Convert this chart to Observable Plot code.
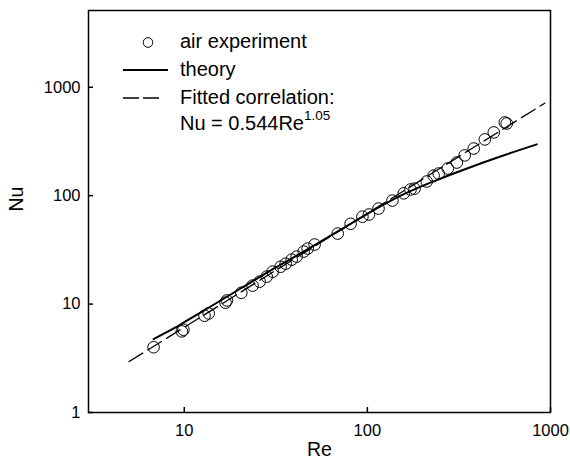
<!DOCTYPE html>
<html><head><meta charset="utf-8">
<script src="https://cdn.jsdelivr.net/npm/d3@7"></script>
<script src="https://cdn.jsdelivr.net/npm/@observablehq/plot@0.6"></script>
<style>
body{margin:0;background:#fff;}
#wrap{position:relative;width:570px;height:466px;font-family:"Liberation Sans",Arial,Helvetica,sans-serif;}
#wrap svg.leg{position:absolute;left:0;top:0;pointer-events:none;}
</style></head><body><div id="wrap"></div>
<script>
// air experiment
const reExp = [6.8, 9.7, 9.9, 12.9, 13.6, 16.8, 17.1, 20.5, 23.6, 25.8, 28.2, 30.4, 33.6, 35.8, 38.6, 41.1, 44.9, 47.2, 51.5, 68.9, 81, 94, 102, 115, 137, 158, 172, 181, 211, 230, 245, 275, 308, 340, 381, 438, 490, 563, 577];
const nuExp = [4.0, 5.6, 5.8, 7.8, 8.2, 10.3, 10.8, 12.7, 14.8, 16.1, 17.9, 19.9, 22.1, 23.6, 25.7, 27.4, 30.5, 32.5, 35.4, 44.7, 55, 64, 67, 76, 90, 105, 114, 116, 135, 153, 160, 178, 202, 235, 272, 330, 383, 473, 463];
// theory
const reTheory = [6.8, 8.9, 10, 13.5, 20, 30, 40, 70, 100, 154, 234, 356, 542, 842];
const nuTheory = [4.75, 6.05, 6.8, 9.2, 13.7, 20.7, 27.3, 47.5, 68, 101, 137, 180, 232, 297];
// fitted correlation Nu = 0.544 Re^1.05 (end points)
const reFit = [5, 930];
const nuFit = [2.95, 712];
// axes
const xTicks = [10, 100, 1000];
const yTicks = [1, 10, 100, 1000];
const xLabel = "Re";
const yLabel = "Nu";
const legendLabels = ["air experiment", "theory", "Fitted correlation:", "Nu = 0.544Re", "1.05"];

const exp = reExp.map((r, i) => ({re: r, nu: nuExp[i]}));
const theory = reTheory.map((r, i) => ({re: r, nu: nuTheory[i]}));
const fit = reFit.map((r, i) => ({re: r, nu: nuFit[i]}));

const font = '"Liberation Sans", Arial, Helvetica, sans-serif';

const chart = Plot.plot({
  width: 570,
  height: 466,
  marginLeft: 88,
  marginRight: 20,
  marginTop: 10,
  marginBottom: 54,
  style: {fontFamily: font, background: "#fff", color: "#000"},
  x: {type: "log", domain: [3, 1000]},
  y: {type: "log", domain: [1, 5100]},
  marks: [
    Plot.line(fit, {x: "re", y: "nu", stroke: "#000", strokeWidth: 1.3, strokeDasharray: "16,6"}),
    Plot.line(theory, {x: "re", y: "nu", stroke: "#000", strokeWidth: 2, curve: "catmull-rom"}),
    Plot.dot(exp, {x: "re", y: "nu", r: 5.8, stroke: "#000", strokeWidth: 1, fill: "none"}),
    Plot.frame({stroke: "#000", strokeWidth: 1.5}),
    Plot.tickX(xTicks, {x: d => d, insetTop: 397, stroke: "#000", strokeWidth: 1.5}),
    Plot.tickY(yTicks, {y: d => d, insetRight: 457, stroke: "#000", strokeWidth: 1.5}),
    Plot.axisX({ticks: xTicks, tickFormat: d => String(d), tickSize: 0, tickPadding: 12, fontSize: 16.5, label: null}),
    Plot.axisY({ticks: yTicks, tickFormat: d => String(d), tickSize: 0, tickPadding: 8, fontSize: 16.5, label: null}),
    Plot.text([xLabel], {text: d => d, frameAnchor: "bottom", dy: 37, fontSize: 19.5, lineAnchor: "middle"}),
    Plot.text([yLabel], {text: d => d, frameAnchor: "left", dx: -72, rotate: -90, fontSize: 19.5, lineAnchor: "middle"})
  ]
});

const wrap = document.getElementById("wrap");
wrap.appendChild(chart);

// legend overlay
const leg = d3.create("svg").attr("class", "leg").attr("width", 570).attr("height", 466)
  .style("font-family", font);
leg.append("circle").attr("cx", 148).attr("cy", 42.5).attr("r", 4.8)
  .attr("fill", "none").attr("stroke", "#000").attr("stroke-width", 1);
leg.append("text").attr("x", 180).attr("y", 48).attr("font-size", 20).text(legendLabels[0]);
leg.append("line").attr("x1", 123).attr("x2", 168).attr("y1", 70).attr("y2", 70)
  .attr("stroke", "#000").attr("stroke-width", 2);
leg.append("text").attr("x", 180).attr("y", 76).attr("font-size", 20).text(legendLabels[1]);
leg.append("line").attr("x1", 123).attr("x2", 159).attr("y1", 98).attr("y2", 98)
  .attr("stroke", "#000").attr("stroke-width", 1.3).attr("stroke-dasharray", "16,4");
leg.append("text").attr("x", 180).attr("y", 104).attr("font-size", 20).text(legendLabels[2]);
const t = leg.append("text").attr("x", 180).attr("y", 130).attr("font-size", 20);
t.append("tspan").text(legendLabels[3]);
t.append("tspan").attr("dy", -10).attr("font-size", 13.5).text(legendLabels[4]);
wrap.appendChild(leg.node());
</script>
</body></html>
